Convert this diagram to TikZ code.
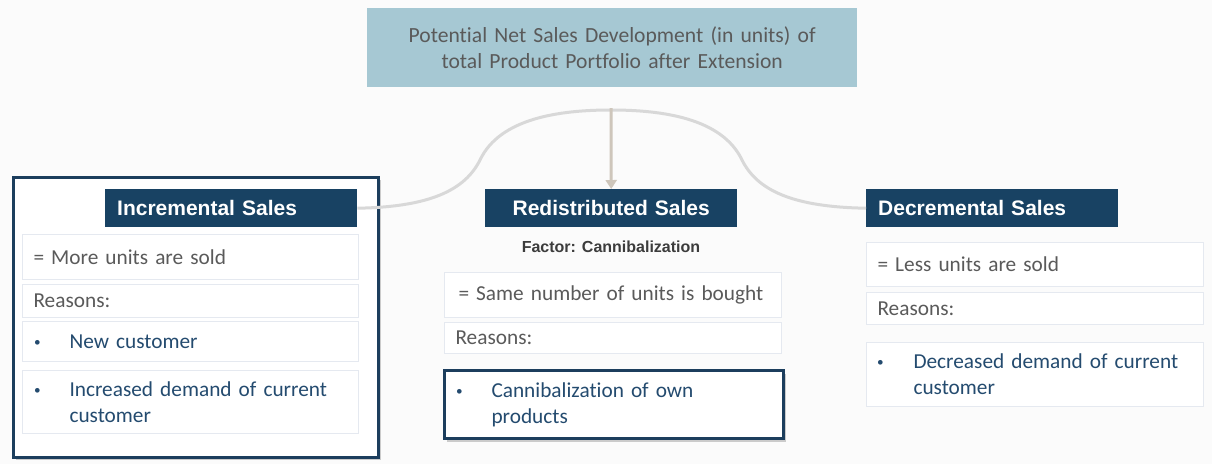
\documentclass[tikz,border=0pt]{standalone}
\usepackage{fontspec}
\setmainfont{Carlito}[Ligatures=NoCommon]
\newfontfamily\headfont{Liberation Sans}
\usetikzlibrary{shadows,arrows.meta}

\definecolor{pagebg}{HTML}{FBFBFB}
\definecolor{navy}{HTML}{184263}
\definecolor{frame}{HTML}{1C3E5D}
\definecolor{topfill}{HTML}{A6C8D3}
\definecolor{greytxt}{HTML}{5A5A5A}
\definecolor{bluetxt}{HTML}{244B6F}
\definecolor{rowline}{HTML}{E5E9F0}
\definecolor{curve}{HTML}{D8D8D8}
\definecolor{arrowcol}{HTML}{CEC6BB}
\definecolor{factor}{HTML}{3C3C3C}

\tikzset{
  bodyfont/.style={font=\fontsize{21.3}{26}\selectfont},
  head/.style={fill=navy, draw=none, text=white, anchor=north west,
    font=\headfont\bfseries\fontsize{21}{24}\selectfont,
    minimum height=38pt, inner ysep=0pt},
  row/.style={bodyfont, draw=rowline, line width=1pt, fill=white,
    anchor=north west, align=left, inner ysep=0pt, text=greytxt},
  bulletrow/.style={row, text=bluetxt},
  framebox/.style={draw=frame, line width=3pt, fill=white,
    drop shadow={shadow xshift=2.5pt, shadow yshift=-3pt, opacity=0.35, fill=black!55}},
  link/.style={draw=curve, line width=3pt},
  feed/.style={draw=arrowcol, line width=3pt, -{Triangle[length=9pt,width=11pt]}},
}
\newcommand{\bul}[1][37pt]{\makebox[#1][l]{\hspace*{1.5pt}\raisebox{2pt}{\scalebox{0.62}{\textbullet}}}}

\begin{document}
\begin{tikzpicture}[x=1pt,y=-1pt]
  % page
  \fill[pagebg] (0,0) rectangle (1212,464);
  \useasboundingbox (0,0) rectangle (1212,464);

  % title box
  \node[fill=topfill, anchor=north west, minimum width=490pt, minimum height=79pt,
        text width=470pt, align=center, text=greytxt,
        font=\fontsize{21.6}{26}\selectfont] (title) at (367,8)
    {Potential Net Sales Development (in units) of\\total Product Portfolio after Extension};

  % left column frame
  \path[framebox] (13,177) rectangle (378,457);

  % headers
  \node[head, text width=228pt, inner xsep=12pt, align=left] (inchead) at (105,189) {Incremental Sales};
  \node[head, text width=228pt, inner xsep=12pt, align=center] (redhead) at (485,189) {Redistributed Sales};
  \node[head, text width=228pt, inner xsep=12pt, align=left] (dechead) at (866,189) {Decremental Sales};

  % connectors
  \coordinate (hub) at (611,110);
  \draw[link] (inchead.east) .. controls (430,207) and (465,190) .. (480,160)
                             .. controls (500,118) and (560,110) .. (hub);
  \draw[link] (hub) .. controls (662,110) and (722,118) .. (742,160)
                    .. controls (757,190) and (792,207) .. (dechead.west);
  \draw[feed] ([yshift=2pt]hub) -- (redhead.north);

  % incremental sales
  \node[row, text width=314pt, inner xsep=11pt, minimum height=45pt] (inc1) at (22,234) {= More units are sold};
  \node[row, text width=314pt, inner xsep=11pt, minimum height=33pt] (inc2) at (22,284) {Reasons:};
  \node[bulletrow, text width=316pt, inner xsep=10pt, minimum height=40pt] (inc3) at (22,321) {\bul New customer};
  \node[bulletrow, text width=316pt, inner xsep=10pt, minimum height=63pt] (inc4) at (22,370)
    {\bul Increased demand of current\\\hspace*{37pt}customer};

  % redistributed sales
  \node[font=\headfont\bfseries\fontsize{16}{18}\selectfont, text=factor] (factor) at (611,247) {Factor: Cannibalization};
  \node[row, text width=309pt, inner xsep=14pt, minimum height=45pt] (red1) at (444,272) {\mbox{= Same number of units is bought}};
  \node[row, text width=315pt, inner xsep=11pt, minimum height=31pt] (red2) at (444,322) {Reasons:};
  \node[framebox, bodyfont, text=bluetxt, anchor=north west, align=left, text width=319pt,
        inner xsep=10pt, inner ysep=0pt, minimum height=68pt] (red3) at (443,369)
    {\bul Cannibalization of own\\\hspace*{37pt}products};

  % decremental sales
  \node[row, text width=315pt, inner xsep=11pt, minimum height=44pt] (dec1) at (866,242) {= Less units are sold};
  \node[row, text width=315pt, inner xsep=11pt, minimum height=32pt] (dec2) at (866,292) {Reasons:};
  \node[bulletrow, text width=319pt, inner xsep=9pt, minimum height=64pt] (dec3) at (866,342)
    {\bul[38pt]Decreased demand of current\\\hspace*{38pt}customer};
\end{tikzpicture}
\end{document}
